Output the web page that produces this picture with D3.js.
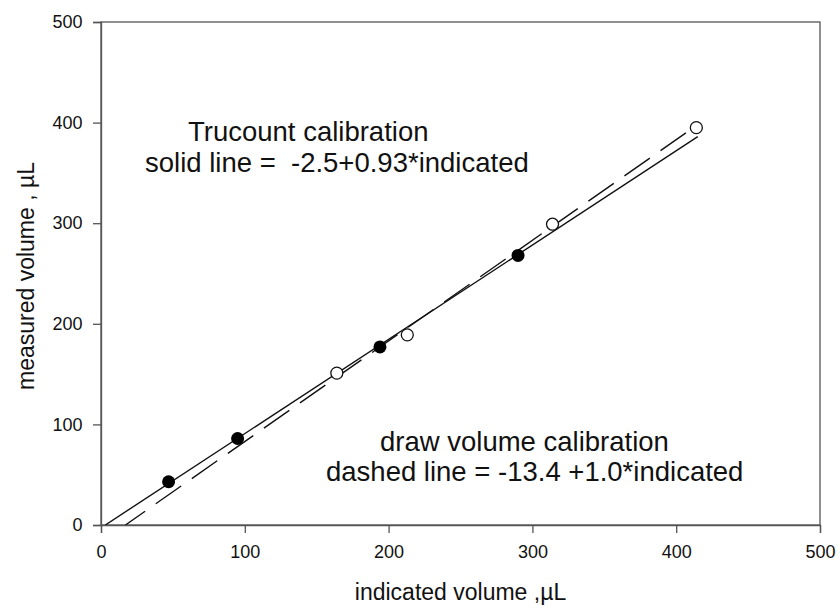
<!DOCTYPE html>
<html>
<head>
<meta charset="utf-8">
<script src="https://cdn.jsdelivr.net/npm/d3@7"></script>
<style>
  html, body { margin: 0; padding: 0; background: #fff; }
  svg text { font-family: "Liberation Sans", Arial, sans-serif; fill: #111; }
</style>
</head>
<body>
<svg id="chart" width="840" height="609"></svg>
<script>
// ---- data ----
const filledX = [47, 95, 194, 290];
const filledY = [43, 86, 177, 268];
const openX = [164, 213, 314, 414];
const openY = [151, 189, 299, 395];
// fitted lines as drawn (end points)
const solidLineX = [3, 415];
const solidLineY = [0, 386];
const dashedLineX = [17, 415];
const dashedLineY = [0, 398];
const xTicks = [0, 100, 200, 300, 400, 500];
const yTicks = [0, 100, 200, 300, 400, 500];
const annotations = [
  "Trucount calibration",
  "solid line =  -2.5+0.93*indicated",
  "draw volume calibration",
  "dashed line = -13.4 +1.0*indicated"
];
const xTitle = "indicated volume ,\u00b5L";
const yTitle = "measured volume , \u00b5L";

// ---- layout ----
const svg = d3.select("#chart");
const L = 101, R = 820, T = 22, B = 525;
const x = d3.scaleLinear().domain([0, 500]).range([L, R]);
const y = d3.scaleLinear().domain([0, 500]).range([B, T]);

// frame
svg.append("rect").attr("x", L).attr("y", T).attr("width", R - L).attr("height", B - T)
  .attr("fill", "none").attr("stroke", "#555").attr("stroke-width", 1.3);

const xAxis = svg.append("g").attr("transform", `translate(0,${B})`)
  .call(d3.axisBottom(x).tickValues(xTicks).tickSize(8).tickPadding(12).tickFormat(d3.format("d")));
const yAxis = svg.append("g").attr("transform", `translate(${L},0)`)
  .call(d3.axisLeft(y).tickValues(yTicks).tickSize(8).tickPadding(10.5).tickFormat(d3.format("d")));
[xAxis, yAxis].forEach(g => {
  g.select(".domain").attr("stroke", "#555").attr("stroke-width", 1.3);
  g.selectAll(".tick line").attr("stroke", "#555").attr("stroke-width", 1.3);
  g.selectAll(".tick text").attr("font-size", 18).attr("fill", "#111")
    .attr("font-family", "Liberation Sans, Arial, sans-serif");
});

const clip = svg.append("clipPath").attr("id", "plotclip");
clip.append("rect").attr("x", L).attr("y", T).attr("width", R - L).attr("height", B - T);

const lineGen = d3.line().x(d => x(d[0])).y(d => y(d[1]));
const solidPts = solidLineX.map((v, i) => [v, solidLineY[i]]);
const dashedPts = dashedLineX.map((v, i) => [v, dashedLineY[i]]);

svg.append("path").attr("d", lineGen(solidPts))
  .attr("fill", "none").attr("stroke", "#111").attr("stroke-width", 1.4)
  .attr("clip-path", "url(#plotclip)");
svg.append("path").attr("d", lineGen(dashedPts))
  .attr("fill", "none").attr("stroke", "#111").attr("stroke-width", 1.4)
  .attr("stroke-dasharray", "31,13").attr("stroke-dashoffset", 7)
  .attr("clip-path", "url(#plotclip)");

// points
svg.append("g").selectAll("circle").data(openX.map((v, i) => [v, openY[i]])).join("circle")
  .attr("cx", d => x(d[0])).attr("cy", d => y(d[1])).attr("r", 6)
  .attr("fill", "#fff").attr("stroke", "#111").attr("stroke-width", 1.3);
svg.append("g").selectAll("circle").data(filledX.map((v, i) => [v, filledY[i]])).join("circle")
  .attr("cx", d => x(d[0])).attr("cy", d => y(d[1])).attr("r", 6.5)
  .attr("fill", "#000");

// annotations
const annPos = [[188, 141], [145, 172], [380, 451], [326, 481]];
svg.append("g").selectAll("text").data(annotations).join("text")
  .attr("x", (d, i) => annPos[i][0]).attr("y", (d, i) => annPos[i][1])
  .attr("font-size", 27.5).style("white-space", "pre").attr("xml:space", "preserve")
  .text(d => d);

// axis titles
svg.append("text").attr("x", (L + R) / 2).attr("y", 600).attr("text-anchor", "middle")
  .attr("font-size", 23).text(xTitle);
svg.append("text").attr("transform", `translate(34,276) rotate(-90)`)
  .attr("text-anchor", "middle").attr("font-size", 23).text(yTitle);
</script>
</body>
</html>
